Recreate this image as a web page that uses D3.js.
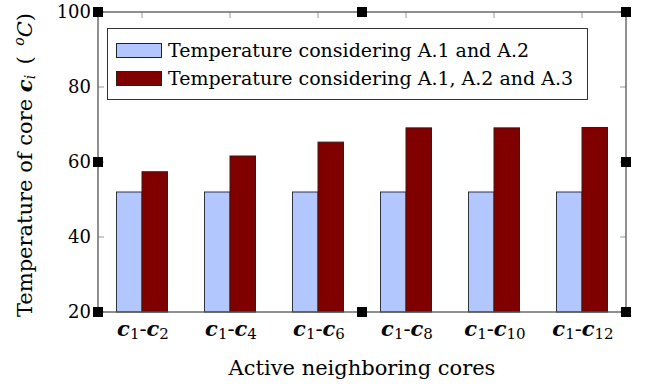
<!DOCTYPE html>
<html>
<head>
<meta charset="utf-8">
<script src="https://cdn.jsdelivr.net/npm/d3@7"></script>
<style>
  body { margin: 0; background: #fff; }
  text { font-family: "DejaVu Serif", serif; }
</style>
</head>
<body>
<div id="chart"></div>
<script>
// chart data
const categories = ["2", "4", "6", "8", "10", "12"];
const tempA12 = [52, 52, 52, 52, 52, 52];
const tempA123 = [57.4, 61.6, 65.3, 69.1, 69.1, 69.2];
const seriesNames = ["Temperature considering A.1 and A.2", "Temperature considering A.1, A.2 and A.3"];
const yTicks = [20, 40, 60, 80, 100];

const width = 657;
const height = 388;
const pLeft = 98, pRight = 626, pTop = 12, pBottom = 312;

const svg = d3.select("#chart")
  .append("svg")
  .attr("width", width)
  .attr("height", height);

const x = d3.scalePoint()
  .domain(categories)
  .range([pLeft, pRight])
  .padding(0.5);

const y = d3.scaleLinear()
  .domain([20, 100])
  .range([pBottom, pTop]);

const barW = 25.5;
const colors = ["#b3c7ff", "#800000"];
const axisColor = "#555";

// top ticks at categories
svg.append("g")
  .selectAll("line")
  .data(categories)
  .join("line")
  .attr("x1", d => x(d)).attr("x2", d => x(d))
  .attr("y1", pTop).attr("y2", pTop + 6)
  .attr("stroke", "#999").attr("stroke-width", 1);

// y ticks, left and right
const tickG = svg.append("g");
yTicks.forEach(t => {
  tickG.append("line")
    .attr("x1", pLeft).attr("x2", pLeft + 6)
    .attr("y1", y(t)).attr("y2", y(t))
    .attr("stroke", "#999");
  tickG.append("line")
    .attr("x1", pRight - 6).attr("x2", pRight)
    .attr("y1", y(t)).attr("y2", y(t))
    .attr("stroke", "#999");
});

// bars
const bars = svg.append("g");
bars.selectAll("rect.a")
  .data(tempA12)
  .join("rect")
  .attr("class", "a")
  .attr("x", (d, i) => x(categories[i]) - barW)
  .attr("y", d => y(d))
  .attr("width", barW)
  .attr("height", d => y(20) - y(d))
  .attr("fill", colors[0])
  .attr("stroke", "#333")
  .attr("stroke-width", 1);

bars.selectAll("rect.b")
  .data(tempA123)
  .join("rect")
  .attr("class", "b")
  .attr("x", (d, i) => x(categories[i]))
  .attr("y", d => y(d))
  .attr("width", barW)
  .attr("height", d => y(20) - y(d))
  .attr("fill", colors[1])
  .attr("stroke", "#222")
  .attr("stroke-width", 1);

// axis frame
svg.append("rect")
  .attr("x", pLeft).attr("y", pTop)
  .attr("width", pRight - pLeft).attr("height", pBottom - pTop)
  .attr("fill", "none")
  .attr("stroke", axisColor)
  .attr("stroke-width", 1.3);

// corner and midpoint squares
const mx = (pLeft + pRight) / 2, my = (pTop + pBottom) / 2;
const squares = [[pLeft, pTop], [mx, pTop], [pRight, pTop], [pLeft, my], [pRight, my], [pLeft, pBottom], [mx, pBottom], [pRight, pBottom]];
svg.append("g")
  .selectAll("rect")
  .data(squares)
  .join("rect")
  .attr("x", d => d[0] - 5)
  .attr("y", d => d[1] - 5)
  .attr("width", 10).attr("height", 10)
  .attr("fill", "#000");

// y tick labels
svg.append("g")
  .selectAll("text")
  .data(yTicks)
  .join("text")
  .attr("x", pLeft - 7)
  .attr("y", d => y(d))
  .attr("dy", "0.35em")
  .attr("text-anchor", "end")
  .style("font-size", "18px")
  .text(d => d);

// x tick labels c1-cN
const xl = svg.append("g")
  .selectAll("text")
  .data(categories)
  .join("text")
  .attr("x", d => x(d) + 1)
  .attr("y", 336)
  .attr("text-anchor", "middle")
  .style("font-size", "21px");
xl.append("tspan").style("font-weight", "bold").style("font-style", "italic").text("c");
xl.append("tspan").attr("dy", 3).style("font-size", "15px").text("1");
xl.append("tspan").attr("dy", -3).text("-");
xl.append("tspan").style("font-weight", "bold").style("font-style", "italic").text("c");
xl.append("tspan").attr("dy", 3).style("font-size", "15px").text(d => d);

// x axis title
svg.append("text")
  .attr("x", mx)
  .attr("y", 375)
  .attr("text-anchor", "middle")
  .style("font-size", "21px")
  .text("Active neighboring cores");

// y axis title
const yt = svg.append("text")
  .attr("transform", `translate(32,${my + 3}) rotate(-90)`)
  .attr("text-anchor", "middle")
  .style("font-size", "21px");
yt.append("tspan").text("Temperature of core ");
yt.append("tspan").style("font-weight", "bold").style("font-style", "italic").text("c");
yt.append("tspan").attr("dy", 3).style("font-size", "14px").style("font-style", "italic").text("i");
yt.append("tspan").attr("dy", -3).text("\u2002(\u2002");
yt.append("tspan").attr("dy", -8).style("font-size", "14px").style("font-style", "italic").text("o");
yt.append("tspan").attr("dy", 8).style("font-style", "italic").text("C");
yt.append("tspan").text(")");

// legend
const lg = svg.append("g");
lg.append("rect")
  .attr("x", 107.5).attr("y", 28.5)
  .attr("width", 480).attr("height", 71)
  .attr("fill", "#fff")
  .attr("stroke", "#333");
seriesNames.forEach((name, i) => {
  lg.append("rect")
    .attr("x", 116.5).attr("y", 43.5 + i * 28)
    .attr("width", 45).attr("height", 14)
    .attr("fill", colors[i])
    .attr("stroke", "#222");
  lg.append("text")
    .attr("x", 168)
    .attr("y", 50 + i * 28)
    .attr("dy", "0.35em")
    .style("font-size", "19px")
    .text(name);
});
</script>
</body>
</html>
